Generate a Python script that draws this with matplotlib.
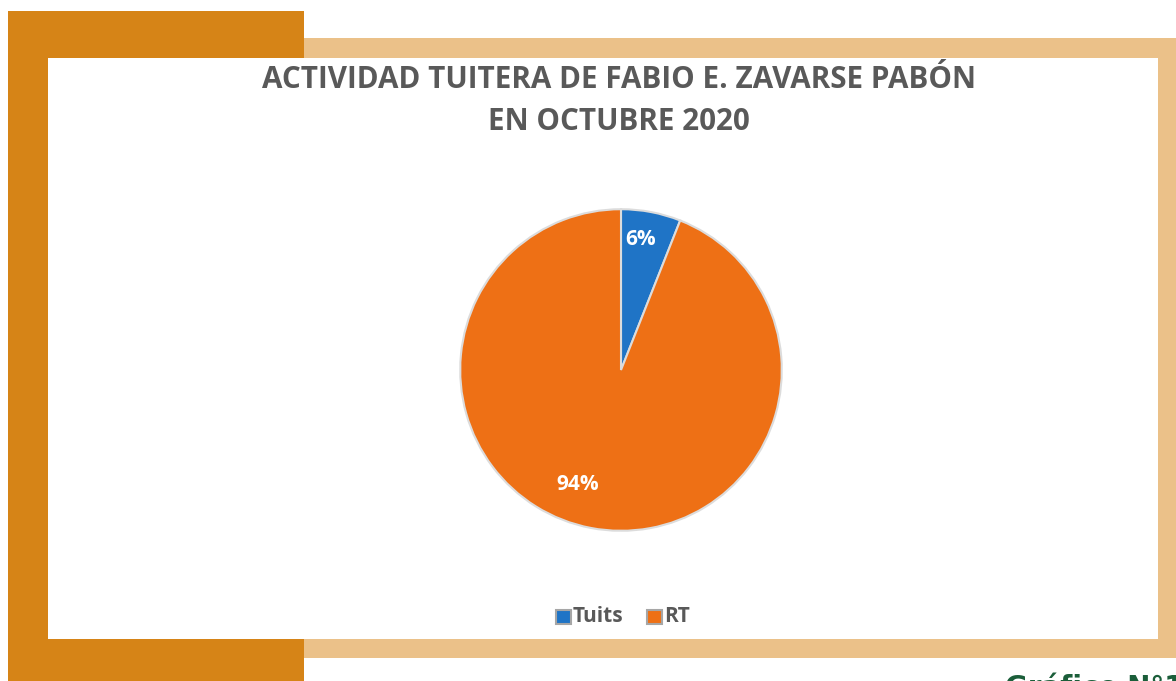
import matplotlib.pyplot as plt
from matplotlib.patches import Rectangle

# data
labels = ['Tuits', 'RT']
values = [6, 94]
colors = ['#1F74C6', '#EE7015']

W, H = 1176, 681
fig = plt.figure(figsize=(W / 100, H / 100), dpi=100)
fig.patch.set_facecolor('white')


def px_rect(x0, y0, x1, y1, color, z):
    # rectangle given in pixel coords (top-left origin)
    fig.patches.append(Rectangle((x0 / W, 1 - y1 / H), (x1 - x0) / W, (y1 - y0) / H,
                                 transform=fig.transFigure, facecolor=color,
                                 edgecolor='none', zorder=z))


# decorative frame
px_rect(304, 38, 1176, 658, '#EBC189', 0)
px_rect(8, 11, 304, 681, '#D68417', 1)
px_rect(48, 58, 1158, 639, 'white', 2)

fig.text(619 / W, 1 - 80 / H, 'ACTIVIDAD TUITERA DE FABIO E. ZAVARSE PABÓN',
         ha='center', va='center', fontsize=21.3, fontweight='bold',
         color='#595959', family='Open Sans', zorder=5)
fig.text(619 / W, 1 - 122 / H, 'EN OCTUBRE 2020',
         ha='center', va='center', fontsize=21.3, fontweight='bold',
         color='#595959', family='Open Sans', zorder=5)

fig.text(1005 / W, 1 - 688 / H, 'Gráfico N°10', ha='left', va='center',
         fontsize=20, fontweight='bold', color='#1B5E3A', zorder=5)

# pie
r = 164
cx, cy = 621, 370
ax = fig.add_axes([(cx - r) / W, 1 - (cy + r) / H, 2 * r / W, 2 * r / H])
ax.set_zorder(3)
wedges, _ = ax.pie(values, colors=colors, startangle=90, counterclock=False,
                   radius=1.0,
                   wedgeprops=dict(edgecolor='#DCDCDC', linewidth=1.5))
ax.set_xlim(-1.02, 1.02)
ax.set_ylim(-1.02, 1.02)
ax.set_aspect('equal')
ax.axis('off')

fig.text(641 / W, 1 - 239 / H, f'{values[0]}%', ha='center', va='center',
         fontsize=15, fontweight='bold', color='white', family='Open Sans', zorder=6)
fig.text(578 / W, 1 - 485 / H, f'{values[1]}%', ha='center', va='center',
         fontsize=15, fontweight='bold', color='white', family='Open Sans', zorder=6)

# legend
leg_y = 617
for lx, lab, col in [(556, labels[0], colors[0]), (647, labels[1], colors[1])]:
    fig.patches.append(Rectangle((lx / W, 1 - (leg_y + 7) / H), 15 / W, 14 / H,
                                 transform=fig.transFigure, facecolor=col,
                                 edgecolor='#A6A6A6', linewidth=1.5, zorder=5))
    fig.text((lx + 17) / W, 1 - leg_y / H, lab, ha='left', va='center',
             fontsize=15, fontweight='bold', color='#595959', family='Open Sans', zorder=6)

fig.savefig('out.png', dpi=100)
